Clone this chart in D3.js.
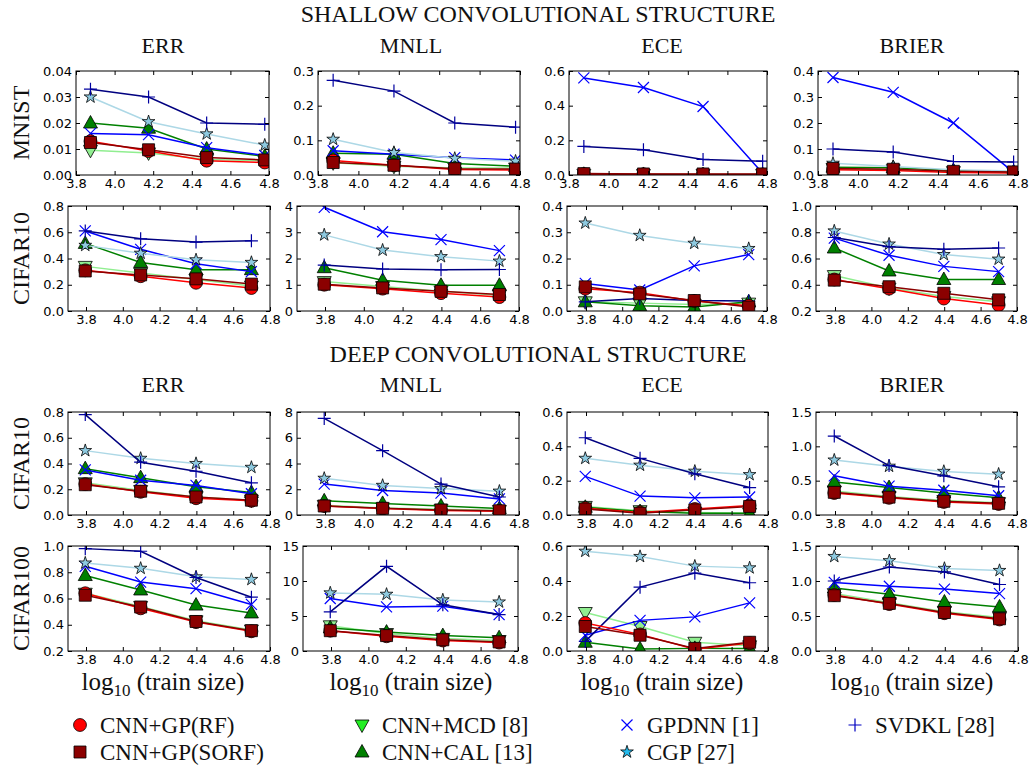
<!DOCTYPE html>
<html>
<head>
<meta charset="utf-8">
<script src="https://cdn.jsdelivr.net/npm/d3@7"></script>
<style>
  body { margin: 0; background: #fff; }
  .tick text { font-family: "DejaVu Sans", sans-serif; font-size: 13px; fill: #000; }
  .tick line { stroke: #000; stroke-width: 1; }
  .serif { font-family: "Liberation Serif", "DejaVu Serif", serif; fill: #111; }
</style>
</head>
<body>
<svg id="chart" width="1033" height="767"></svg>
<script>
// series order: RF, SORF, MCD, CAL, GPDNN, CGP, SVDKL
const methods = ['CNN+GP(RF)', 'CNN+GP(SORF)', 'CNN+MCD [8]', 'CNN+CAL [13]', 'GPDNN [1]', 'CGP [27]', 'SVDKL [28]'];
const xMnist = [3.875, 4.176, 4.477, 4.778];
const xCifar = [3.796, 4.097, 4.398, 4.699];
const xTicks = [3.8, 4.0, 4.2, 4.4, 4.6, 4.8];
const metrics = ['ERR', 'MNLL', 'ECE', 'BRIER'];

// shallow, MNIST
const mnistErr = [
  [0.013, 0.0092, 0.0055, 0.0048],
  [0.0125, 0.0097, 0.0067, 0.0058],
  [0.0095, 0.0085, 0.006, 0.0055],
  [0.020, 0.018, 0.010, 0.0072],
  [0.016, 0.0155, 0.0105, 0.0075],
  [0.030, 0.0205, 0.0158, 0.0115],
  [0.033, 0.030, 0.020, 0.0195]
];
const mnistMnll = [
  [0.042, 0.028, 0.016, 0.014],
  [0.036, 0.028, 0.018, 0.017],
  [0.035, 0.025, 0.02, 0.02],
  [0.063, 0.06, 0.033, 0.025],
  [0.07, 0.06, 0.05, 0.043],
  [0.103, 0.065, 0.048, 0.04],
  [0.273, 0.242, 0.15, 0.138]
];
const mnistEce = [
  [0.005, 0.004, 0.003, 0.003],
  [0.008, 0.006, 0.006, 0.006],
  [0.004, 0.003, 0.003, 0.003],
  [0.004, 0.003, 0.002, 0.002],
  [0.56, 0.505, 0.395, 0.01],
  [0.005, 0.004, 0.003, 0.003],
  [0.165, 0.145, 0.09, 0.08]
];
const mnistBrier = [
  [0.02, 0.017, 0.01, 0.008],
  [0.025, 0.022, 0.014, 0.012],
  [0.025, 0.02, 0.013, 0.01],
  [0.03, 0.028, 0.017, 0.012],
  [0.375, 0.318, 0.2, 0.01],
  [0.045, 0.033, 0.02, 0.015],
  [0.1, 0.088, 0.052, 0.05]
];

// shallow, CIFAR10
const cifar10sErr = [
  [0.31, 0.265, 0.215, 0.175],
  [0.305, 0.275, 0.245, 0.205],
  [0.34, 0.29, 0.24, 0.19],
  [0.515, 0.37, 0.315, 0.315],
  [0.61, 0.47, 0.36, 0.30],
  [0.50, 0.44, 0.39, 0.37],
  [0.61, 0.55, 0.525, 0.535]
];
const cifar10sMnll = [
  [1.0, 0.85, 0.68, 0.53],
  [1.02, 0.88, 0.75, 0.63],
  [1.12, 0.93, 0.75, 0.6],
  [1.65, 1.17, 0.98, 0.98],
  [3.95, 3.02, 2.72, 2.3],
  [2.9, 2.32, 2.07, 1.9],
  [1.75, 1.6, 1.57, 1.58]
];
const cifar10sEce = [
  [0.085, 0.07, 0.038, 0.02],
  [0.092, 0.065, 0.04, 0.015],
  [0.035, 0.03, 0.025, 0.03],
  [0.035, 0.02, 0.015, 0.035],
  [0.105, 0.08, 0.172, 0.215],
  [0.335, 0.288, 0.258, 0.238],
  [0.035, 0.048, 0.04, 0.038]
];
const cifar10sBrier = [
  [0.44, 0.37, 0.295, 0.245],
  [0.435, 0.385, 0.335, 0.285],
  [0.47, 0.375, 0.31, 0.27],
  [0.68, 0.505, 0.44, 0.44],
  [0.755, 0.625, 0.54, 0.50],
  [0.81, 0.71, 0.63, 0.595],
  [0.76, 0.69, 0.67, 0.68]
];

// deep, CIFAR10
const cifar10dErr = [
  [0.24, 0.18, 0.13, 0.11],
  [0.235, 0.185, 0.14, 0.115],
  [0.25, 0.19, 0.14, 0.115],
  [0.36, 0.29, 0.22, 0.175],
  [0.35, 0.27, 0.23, 0.165],
  [0.50, 0.44, 0.40, 0.37],
  [0.78, 0.41, 0.34, 0.25]
];
const cifar10dMnll = [
  [0.7, 0.5, 0.35, 0.3],
  [0.7, 0.52, 0.38, 0.33],
  [0.75, 0.55, 0.45, 0.35],
  [1.1, 0.9, 0.7, 0.5],
  [2.4, 1.9, 1.7, 1.25],
  [2.85, 2.3, 2.05, 1.85],
  [7.5, 5.0, 2.4, 1.4]
];
const cifar10dEce = [
  [0.04, 0.015, 0.035, 0.055],
  [0.035, 0.01, 0.03, 0.05],
  [0.05, 0.025, 0.015, 0.01],
  [0.045, 0.02, 0.01, 0.01],
  [0.225, 0.11, 0.10, 0.105],
  [0.33, 0.29, 0.255, 0.235],
  [0.45, 0.33, 0.24, 0.16]
];
const cifar10dBrier = [
  [0.32, 0.25, 0.19, 0.16],
  [0.33, 0.26, 0.20, 0.17],
  [0.35, 0.27, 0.21, 0.18],
  [0.48, 0.40, 0.32, 0.25],
  [0.57, 0.42, 0.36, 0.28],
  [0.80, 0.71, 0.635, 0.595],
  [1.15, 0.72, 0.57, 0.41]
];

// deep, CIFAR100
const cifar100dErr = [
  [0.64, 0.525, 0.42, 0.35],
  [0.625, 0.535, 0.425, 0.355],
  [0.64, 0.54, 0.43, 0.36],
  [0.775, 0.665, 0.55, 0.49],
  [0.845, 0.725, 0.675, 0.555],
  [0.87, 0.83, 0.765, 0.745],
  [0.98, 0.96, 0.76, 0.61]
];
const cifar100dMnll = [
  [2.9, 2.1, 1.5, 1.2],
  [2.9, 2.2, 1.6, 1.3],
  [3.6, 2.5, 1.8, 1.5],
  [3.3, 2.7, 2.2, 1.9],
  [7.5, 6.3, 6.4, 5.2],
  [8.3, 8.1, 7.3, 7.0],
  [5.6, 12.1, 6.6, 5.2]
];
const cifar100dEce = [
  [0.16, 0.095, 0.01, 0.045],
  [0.14, 0.09, 0.015, 0.05],
  [0.22, 0.14, 0.05, 0.03],
  [0.05, 0.012, 0.015, 0.015],
  [0.09, 0.175, 0.195, 0.275],
  [0.57, 0.54, 0.485, 0.475],
  [0.055, 0.365, 0.445, 0.39]
];
const cifar100dBrier = [
  [0.8, 0.67, 0.54, 0.45],
  [0.79, 0.68, 0.55, 0.46],
  [0.82, 0.69, 0.56, 0.48],
  [0.9, 0.81, 0.7, 0.63],
  [0.98, 0.925, 0.885, 0.82],
  [1.35, 1.29, 1.18, 1.15],
  [1.0, 1.2, 1.13, 0.95]
];

// y ranges and ticks per row
const rowsData = [
  { label: 'MNIST', x: xMnist, panels: [mnistErr, mnistMnll, mnistEce, mnistBrier],
    yDom: [[0, 0.04], [0, 0.3], [0, 0.6], [0, 0.4]],
    yTicks: [[0, 0.01, 0.02, 0.03, 0.04], [0, 0.1, 0.2, 0.3], [0, 0.2, 0.4, 0.6], [0, 0.1, 0.2, 0.3, 0.4]],
    yFmt: ['.2f', '.1f', '.1f', '.1f'] },
  { label: 'CIFAR10', x: xCifar, panels: [cifar10sErr, cifar10sMnll, cifar10sEce, cifar10sBrier],
    yDom: [[0, 0.8], [0, 4], [0, 0.4], [0.2, 1.0]],
    yTicks: [[0, 0.2, 0.4, 0.6, 0.8], [0, 1, 2, 3, 4], [0, 0.1, 0.2, 0.3, 0.4], [0.2, 0.4, 0.6, 0.8, 1.0]],
    yFmt: ['.1f', 'd', '.1f', '.1f'] },
  { label: 'CIFAR10', x: xCifar, panels: [cifar10dErr, cifar10dMnll, cifar10dEce, cifar10dBrier],
    yDom: [[0, 0.8], [0, 8], [0, 0.6], [0, 1.5]],
    yTicks: [[0, 0.2, 0.4, 0.6, 0.8], [0, 2, 4, 6, 8], [0, 0.2, 0.4, 0.6], [0, 0.5, 1.0, 1.5]],
    yFmt: ['.1f', 'd', '.1f', '.1f'] },
  { label: 'CIFAR100', x: xCifar, panels: [cifar100dErr, cifar100dMnll, cifar100dEce, cifar100dBrier],
    yDom: [[0.2, 1.0], [0, 15], [0, 0.6], [0, 1.5]],
    yTicks: [[0.2, 0.4, 0.6, 0.8, 1.0], [0, 5, 10, 15], [0, 0.2, 0.4, 0.6], [0, 0.5, 1.0, 1.5]],
    yFmt: ['.1f', 'd', '.1f', '.1f'] }
];

// layout: box edges and pixel of x = 3.8 (box right edge is x = 4.8)
const rowTop = [71, 206, 412, 546];
const rowBottom = [175, 311, 515, 651];
const boxLeft = [[76, 318, 569, 818], [68, 297, 567, 816], [68, 297, 567, 816], [68, 303, 567, 816]];
const tick38 = [[76, 318, 569, 818], [86, 325, 586, 835], [86, 325, 586, 835], [86, 331, 586, 835]];
const boxRight = [[269, 520, 767, 1018], [270, 519, 767, 1017], [270, 519, 768, 1017], [270, 518, 768, 1018]];

const styles = [
  { color: '#ff0000', fill: '#ff0000', marker: 'circle' },
  { color: '#8b0000', fill: '#8b0000', marker: 'square' },
  { color: '#90ee90', fill: '#90ee90', marker: 'down' },
  { color: '#008000', fill: '#008000', marker: 'up' },
  { color: '#0000ff', fill: 'none', marker: 'x' },
  { color: '#add8e6', fill: '#8ecae0', marker: 'star' },
  { color: '#000080', fill: 'none', marker: 'plus' }
];
const drawOrder = [2, 3, 4, 5, 6, 0, 1];

const svg = d3.select('#chart');

function markerPath(type) {
  switch (type) {
    case 'circle': return d3.symbol(d3.symbolCircle, 130)();
    case 'square': return 'M-6,-6H6V6H-6Z';
    case 'up': return 'M0,-7.5L7,5L-7,5Z';
    case 'down': return 'M0,7.5L7,-5L-7,-5Z';
    case 'star': return d3.symbol(d3.symbolStar, 50)();
    case 'x': return 'M-5.5,-5.5L5.5,5.5M-5.5,5.5L5.5,-5.5';
    case 'plus': return 'M-6.5,0H6.5M0,-6.5V6.5';
  }
}

function drawMarker(g, st, cx, cy, color, fill) {
  const p = g.append('path')
    .attr('transform', `translate(${cx},${cy})`)
    .attr('d', markerPath(st.marker));
  if (st.marker === 'x' || st.marker === 'plus') {
    p.attr('fill', 'none').attr('stroke', color).attr('stroke-width', 1.2);
  } else {
    p.attr('fill', fill).attr('stroke', '#000').attr('stroke-width', 0.8);
  }
  return p;
}

rowsData.forEach((row, r) => {
  row.panels.forEach((panel, c) => {
    const x0 = boxLeft[r][c], x1 = boxRight[r][c];
    const y0 = rowTop[r], y1 = rowBottom[r];
    const xScale = d3.scaleLinear().domain([3.8, 4.8]).range([tick38[r][c], x1]);
    const yScale = d3.scaleLinear().domain(row.yDom[c]).range([y1, y0]);
    const clipId = `clip-${r}-${c}`;

    svg.append('clipPath').attr('id', clipId)
      .append('rect').attr('x', x0).attr('y', y0).attr('width', x1 - x0).attr('height', y1 - y0);

    const g = svg.append('g');
    const plot = g.append('g').attr('clip-path', `url(#${clipId})`);

    const line = d3.line()
      .x((d, i) => xScale(row.x[i]))
      .y(d => yScale(d));

    drawOrder.forEach(k => {
      const st = styles[k];
      plot.append('path')
        .datum(panel[k])
        .attr('d', line)
        .attr('fill', 'none')
        .attr('stroke', st.color)
        .attr('stroke-width', 1.5);
      panel[k].forEach((v, i) => {
        drawMarker(plot, st, xScale(row.x[i]), yScale(v), st.marker === 'plus' ? '#0000a0' : st.color, st.fill);
      });
    });

    // axes, ticks pointing inward on all sides
    const fmt = d3.format(row.yFmt[c]);
    g.append('g').attr('transform', `translate(0,${y1})`)
      .call(d3.axisBottom(xScale).tickValues(xTicks).tickFormat(d3.format('.1f')).tickSize(-4).tickPadding(4))
      .call(a => a.select('.domain').remove());
    g.append('g').attr('transform', `translate(0,${y0})`)
      .call(d3.axisTop(xScale).tickValues(xTicks).tickFormat('').tickSize(-4))
      .call(a => a.select('.domain').remove());
    g.append('g').attr('transform', `translate(${x0},0)`)
      .call(d3.axisLeft(yScale).tickValues(row.yTicks[c]).tickFormat(fmt).tickSize(-4).tickPadding(4))
      .call(a => a.select('.domain').remove());
    g.append('g').attr('transform', `translate(${x1},0)`)
      .call(d3.axisRight(yScale).tickValues(row.yTicks[c]).tickFormat('').tickSize(-4))
      .call(a => a.select('.domain').remove());
    g.selectAll('.tick text').attr('font-family', null).attr('font-size', null);

    g.append('rect')
      .attr('x', x0).attr('y', y0).attr('width', x1 - x0).attr('height', y1 - y0)
      .attr('fill', 'none').attr('stroke', '#000').attr('stroke-width', 1);
  });

  // row label
  const cy = (rowTop[r] + rowBottom[r]) / 2;
  svg.append('text').attr('class', 'serif')
    .attr('transform', `translate(29,${cy}) rotate(-90)`)
    .attr('text-anchor', 'middle')
    .style('font-size', '24px')
    .text(row.label);
});

// section and column titles
const colCenter = [163, 411, 662, 912];
[['SHALLOW CONVOLUTIONAL STRUCTURE', 22, 53], ['DEEP CONVOLUTIONAL STRUCTURE', 362, 392]].forEach(([t, ty, cy]) => {
  svg.append('text').attr('class', 'serif')
    .attr('x', 538).attr('y', ty).attr('text-anchor', 'middle')
    .style('font-size', '24px').text(t);
  metrics.forEach((m, c) => {
    svg.append('text').attr('class', 'serif')
      .attr('x', colCenter[c]).attr('y', cy).attr('text-anchor', 'middle')
      .style('font-size', '22px').text(m);
  });
});

// x labels
colCenter.forEach(cx => {
  const t = svg.append('text').attr('class', 'serif')
    .attr('x', cx).attr('y', 690).attr('text-anchor', 'middle')
    .style('font-size', '25px');
  t.append('tspan').text('log');
  t.append('tspan').attr('dy', 6).style('font-size', '17px').text('10');
  t.append('tspan').attr('dy', -6).text('\u00a0(train size)');
});

// legend
const legendColors = ['#ff0000', '#8b0000', '#22ee22', '#008000', '#0000ff', '#22bbee', '#0000c0'];
const legendPos = [[80, 725], [80, 752], [362, 725], [362, 752], [627, 725], [627, 752], [855, 725]];
methods.forEach((m, k) => {
  const [lx, ly] = legendPos[k];
  const st = styles[k];
  const lg = svg.append('g');
  const fill = st.fill === 'none' ? 'none' : legendColors[k];
  drawMarker(lg, st, lx, ly, legendColors[k], fill);
  lg.append('text').attr('class', 'serif')
    .attr('x', lx + 20).attr('y', ly + 8)
    .style('font-size', '23px')
    .text(m);
});
</script>
</body>
</html>
